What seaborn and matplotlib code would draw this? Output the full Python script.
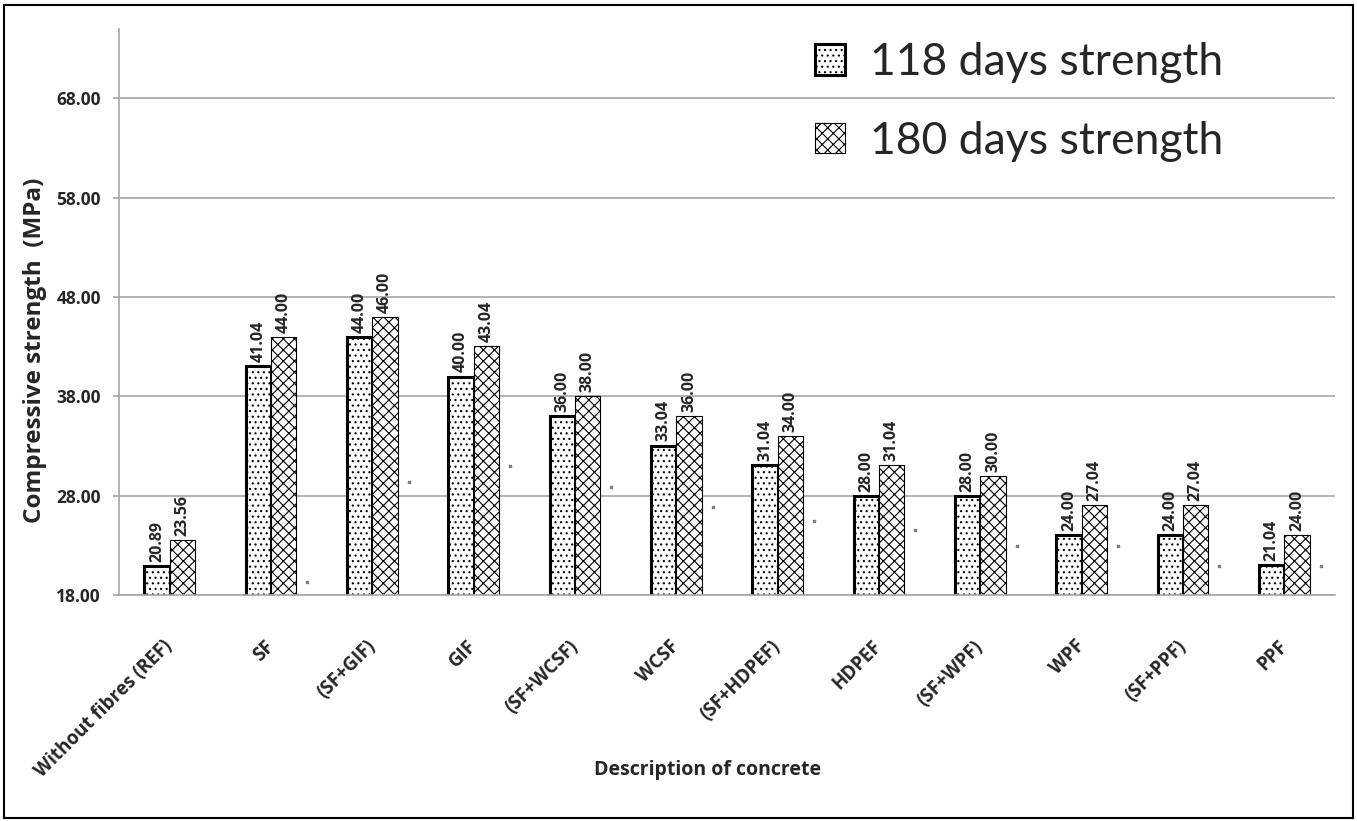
import numpy as np
import pandas as pd
import seaborn as sns
import matplotlib.pyplot as plt
from matplotlib.patches import Rectangle, Patch

sns.set_theme(style="white")
plt.rcParams['font.family'] = ['Open Sans', 'DejaVu Sans']
plt.rcParams['hatch.linewidth'] = 0.8

categories = ['Without fibres (REF)', 'SF', '(SF+GIF)', 'GIF', '(SF+WCSF)', 'WCSF',
              '(SF+HDPEF)', 'HDPEF', '(SF+WPF)', 'WPF', '(SF+PPF)', 'PPF']
days_118 = [20.89, 41.04, 44.00, 40.00, 36.00, 33.04, 31.04, 28.00, 28.00, 24.00, 24.00, 21.04]
days_180 = [23.56, 44.00, 46.00, 43.04, 38.00, 36.00, 34.00, 31.04, 30.00, 27.04, 27.04, 24.00]
# stray tiny marks beside each group in the original
stray = [np.nan, 19.3, 29.4, 31.0, 28.9, 26.9, 25.5, 24.5, 22.9, 22.9, 20.9, 20.9]
series_names = ['118 days strength', '180 days strength']
yticks = [18, 28, 38, 48, 58, 68]

df = pd.DataFrame({
    'concrete': categories * 2,
    'strength': days_118 + days_180,
    'series': [series_names[0]] * len(categories) + [series_names[1]] * len(categories),
})

fig = plt.figure(figsize=(13.57, 8.21), dpi=100)
ax = fig.add_axes([0.0877, 0.2753, 0.8961, 0.6894])

sns.barplot(data=df, x='concrete', y='strength', hue='series', order=categories,
            hue_order=series_names, palette=['white', 'white'], width=0.5,
            saturation=1, ax=ax, legend=False)

hatches = ['...', 'xxx']
lws = [2.2, 0.8]
for cont, h, lw in zip(ax.containers, hatches, lws):
    for p in cont:
        p.set_hatch(h)
        p.set_edgecolor('black')
        p.set_linewidth(lw)
    ax.bar_label(cont, fmt='%.2f', rotation=90, padding=3,
                 fontsize=11.5, fontweight='bold')

ax.scatter(np.arange(len(categories)) + 0.36, stray, marker='s', s=3,
           color='#808080', zorder=3)

ax.set_ylim(18, 75)
ax.set_xlim(-0.5, len(categories) - 0.5)
ax.set_yticks(yticks)
ax.set_yticklabels([f'{v:.2f}' for v in yticks], fontsize=12.5, fontweight='bold')
ax.yaxis.grid(True, color='#a6a6a6', linewidth=1.2)
ax.set_axisbelow(True)
for s in ['top', 'right']:
    ax.spines[s].set_visible(False)
for s in ['left', 'bottom']:
    ax.spines[s].set_color('#a6a6a6')
    ax.spines[s].set_linewidth(1.2)
ax.tick_params(axis='y', left=True, length=4, color='#a6a6a6', width=1.2, pad=9)
ax.tick_params(axis='x', bottom=False, pad=29)
ax.set_xticks(range(len(categories)))
ax.set_xticklabels(categories, rotation=45, ha='right', va='center',
                   rotation_mode='anchor', fontsize=13.5, fontweight='bold')

ax.set_ylabel('Compressive strength  (MPa)', fontsize=17.5, fontweight='bold')
ax.yaxis.set_label_coords(-0.059, 0.433)
ax.set_xlabel('Description of concrete', fontsize=14, fontweight='bold')
ax.xaxis.set_label_coords(0.4836, -0.2915)

handles = [Patch(facecolor='white', edgecolor='black', hatch=h, linewidth=lw)
           for h, lw in zip(hatches, lws)]
ax.legend(handles, series_names, loc='upper left', bbox_to_anchor=(815 / 1357, 1 - 42 / 821),
          bbox_transform=fig.transFigure, frameon=False,
          prop={'family': ['Lato', 'DejaVu Sans'], 'size': 32},
          handlelength=0.68, handleheight=0.68, handletextpad=0.55,
          labelspacing=0.85, borderpad=0, borderaxespad=0)

fig.patches.append(Rectangle((0.003, 0.004), 0.994, 0.99, transform=fig.transFigure,
                             fill=False, edgecolor='black', linewidth=1.5))

fig.savefig('out.png', dpi=100)
